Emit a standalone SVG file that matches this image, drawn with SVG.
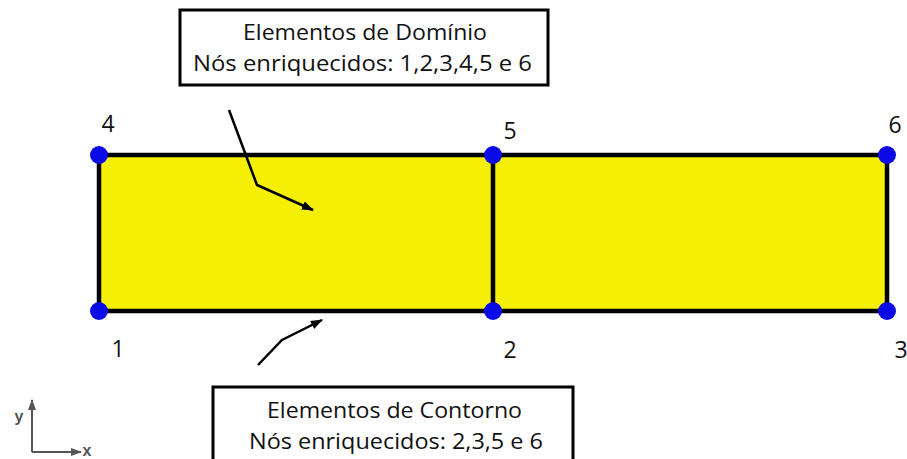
<svg xmlns="http://www.w3.org/2000/svg" width="907" height="459" viewBox="0 0 907 459">
<style>
.lbl{font-family:"Open Sans","Liberation Sans",sans-serif;font-size:22px;fill:#111}
.num{font-family:"Open Sans","Liberation Sans",sans-serif;font-size:23px;fill:#111}
.box{fill:#fff;stroke:#000;stroke-width:3}
.edge{stroke:#000;stroke-width:4.5;fill:none}
.node{fill:#0a0ae6}
.conn{stroke:#000;stroke-width:2.5;fill:none}
.ax{font-family:"Liberation Sans",sans-serif;font-size:16px;font-weight:bold;fill:#555}
</style>
<defs>
<marker id="ah" markerWidth="12" markerHeight="9" refX="11" refY="4.5" orient="auto" markerUnits="userSpaceOnUse">
<path d="M0,0 L12,4.5 L0,9 z" fill="#000"/>
</marker>
<marker id="ah2" markerWidth="11" markerHeight="8" refX="10" refY="4" orient="auto" markerUnits="userSpaceOnUse">
<path d="M0,0 L11,4 L0,8 z" fill="#555"/>
</marker>
</defs>
<g id="mesh">
<rect x="99" y="155" width="788" height="156" fill="#f4ef05"/>
<rect x="99" y="155" width="788" height="156" class="edge"/>
<line x1="493" y1="155" x2="493" y2="311" class="edge"/>
</g>
<g id="n1"><circle cx="99" cy="311" r="9" class="node"/><text x="118" y="357" class="num" text-anchor="middle">1</text></g>
<g id="n2"><circle cx="493" cy="311" r="9" class="node"/><text x="510" y="358" class="num" text-anchor="middle">2</text></g>
<g id="n3"><circle cx="887" cy="311" r="9" class="node"/><text x="901" y="358" class="num" text-anchor="middle">3</text></g>
<g id="n4"><circle cx="99" cy="155" r="9" class="node"/><text x="108" y="132" class="num" text-anchor="middle">4</text></g>
<g id="n5"><circle cx="493" cy="155" r="9" class="node"/><text x="510" y="139" class="num" text-anchor="middle">5</text></g>
<g id="n6"><circle cx="887" cy="155" r="9" class="node"/><text x="895" y="133" class="num" text-anchor="middle">6</text></g>
<g id="dominio">
<rect x="180" y="10" width="368" height="75" class="box"/>
<text x="365" y="40" class="lbl" text-anchor="middle" textLength="244" lengthAdjust="spacingAndGlyphs">Elementos de Domínio</text>
<text x="362.5" y="71" class="lbl" text-anchor="middle" textLength="339" lengthAdjust="spacingAndGlyphs">Nós enriquecidos: 1,2,3,4,5 e 6</text>
</g>
<g id="contorno">
<rect x="213" y="387" width="360" height="80" class="box"/>
<text x="394.5" y="418" class="lbl" text-anchor="middle" textLength="255" lengthAdjust="spacingAndGlyphs">Elementos de Contorno</text>
<text x="396" y="449" class="lbl" text-anchor="middle" textLength="294" lengthAdjust="spacingAndGlyphs">Nós enriquecidos: 2,3,5 e 6</text>
</g>
<g id="connectors">
<polyline points="229,110 257,185 313,210" class="conn" marker-end="url(#ah)"/>
<polyline points="258,365 282,340 322,320" class="conn" marker-end="url(#ah)"/>
</g>
<g id="axes">
<line x1="32" y1="452" x2="32" y2="400" stroke="#555" stroke-width="2" marker-end="url(#ah2)"/>
<line x1="32" y1="452" x2="81" y2="452" stroke="#555" stroke-width="2" marker-end="url(#ah2)"/>
<text x="19" y="422" class="ax" text-anchor="middle">y</text>
<text x="87" y="456" class="ax" text-anchor="middle" font-size="15">x</text>
</g>
</svg>
